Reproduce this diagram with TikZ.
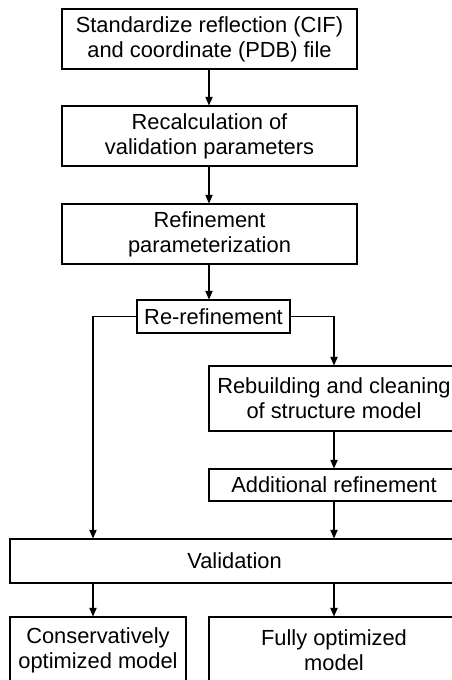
\documentclass[tikz,border=0pt]{standalone}
\usepackage{fontspec}
\setmainfont{Liberation Sans}
\usetikzlibrary{arrows.meta}
\begin{document}
\begin{tikzpicture}[x=0.75pt,y=-0.75pt,line width=0.8pt,>={Triangle[length=6.5pt,width=5.5pt]}]
    \tikzstyle{box}=[rectangle,draw,inner sep=0pt,align=center,font=\fontsize{16.4}{18.9}\selectfont]
    \useasboundingbox (0,0) rectangle (452,680);

    \node[box,minimum width=295*0.75pt,minimum height=60*0.75pt] (std) at (209.5,39) {Standardize reflection (CIF)\\and coordinate (PDB) file};
    \node[box,minimum width=295*0.75pt,minimum height=60*0.75pt] (recalc) at (209.5,136) {Recalculation of\\validation parameters};
    \node[box,minimum width=295*0.75pt,minimum height=60*0.75pt] (param) at (209.5,234) {Refinement\\parameterization};
    \node[box,minimum width=153*0.75pt,minimum height=33*0.75pt] (reref) at (213.5,316.5) {Re-refinement};
    \node[box,minimum width=250*0.75pt,minimum height=65*0.75pt] (rebuild) at (334,398.5) {Rebuilding and cleaning\\of structure model};
    \node[box,minimum width=250*0.75pt,minimum height=32*0.75pt] (addref) at (334,485) {Additional refinement};
    \node[box,minimum width=449*0.75pt,minimum height=44*0.75pt] (valid) at (234.5,561) {Validation};
    \node[box,minimum width=176*0.75pt,minimum height=66*0.75pt] (cons) at (98,650) {Conservatively\\optimized model};
    \node[box,minimum width=250*0.75pt,minimum height=66*0.75pt] (full) at (334,650) {Fully optimized\\model};

    \coordinate (lft) at (93,0);
    \coordinate (rgt) at (334,0);

    \draw[->] (std.south -| 209,0) -- (recalc.north -| 209,0);
    \draw[->] (recalc.south -| 209,0) -- (param.north -| 209,0);
    \draw[->] (param.south -| 209,0) -- (reref.north -| 209,0);
    \draw[->] (reref.west) -| (lft |- valid.north);
    \draw[->] (reref.east) -| (rgt |- rebuild.north);
    \draw[->] (rgt |- rebuild.south) -- (rgt |- addref.north);
    \draw[->] (rgt |- addref.south) -- (rgt |- valid.north);
    \draw[->] (lft |- valid.south) -- (lft |- cons.north);
    \draw[->] (rgt |- valid.south) -- (rgt |- full.north);
\end{tikzpicture}
\end{document}
